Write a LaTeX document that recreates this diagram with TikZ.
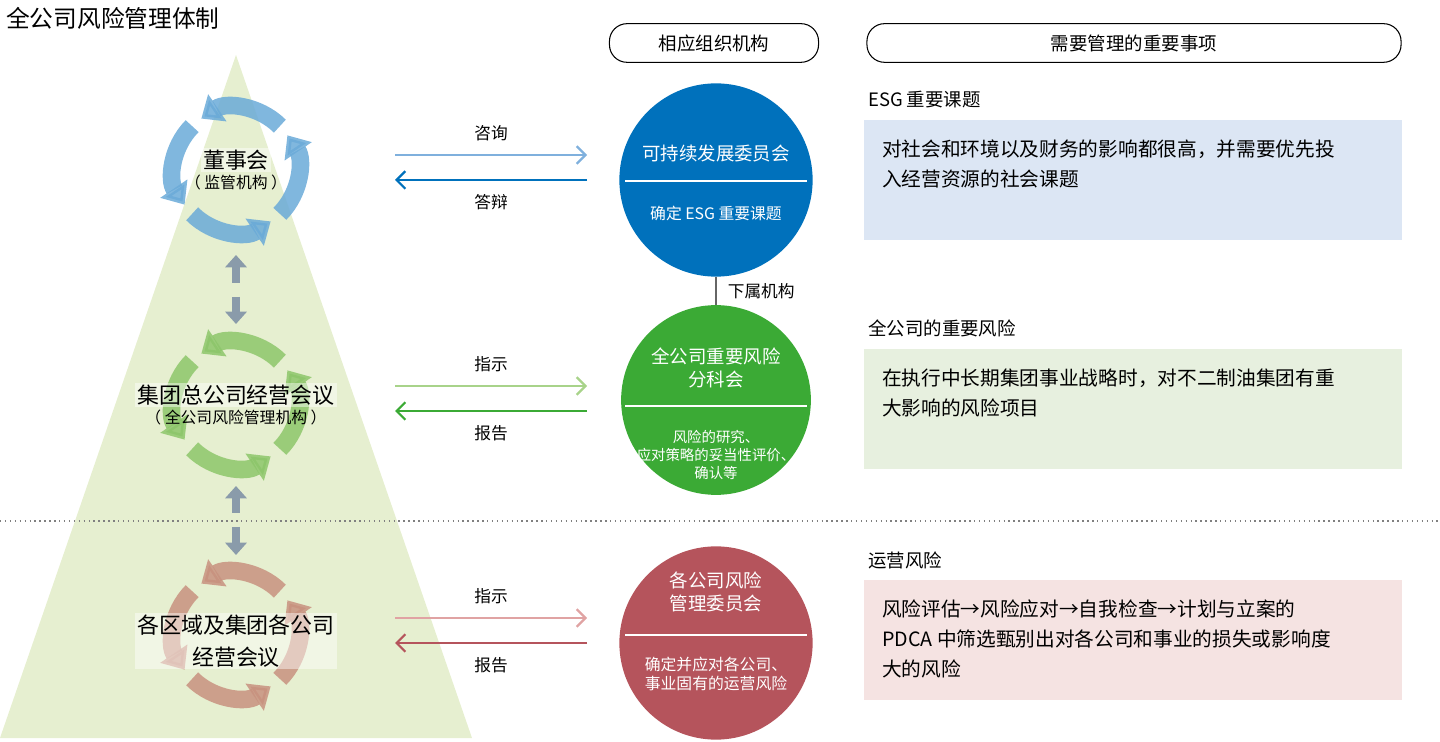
\documentclass[tikz,border=0pt]{standalone}
\usepackage{fontspec}
\setmainfont{Noto Sans CJK SC}
\usetikzlibrary{arrows.meta, positioning, calc}
\definecolor{triGreen}{HTML}{E6EFD0}
\definecolor{esgBlue}{HTML}{0071BC}
\definecolor{riskGreen}{HTML}{3BAA35}
\definecolor{opRed}{HTML}{B5545C}
\definecolor{boxBlue}{HTML}{DCE6F4}
\definecolor{boxGreen}{HTML}{E7F0DF}
\definecolor{boxRed}{HTML}{F5E3E2}
\definecolor{cycBlue}{HTML}{6AAAD8}
\definecolor{cycGreen}{HTML}{8DC66A}
\definecolor{cycRed}{HTML}{C8927F}
\definecolor{blockGray}{HTML}{8A9BAA}
\definecolor{arrLightBlue}{HTML}{7FB0DD}
\definecolor{arrLightGreen}{HTML}{A8D38A}
\definecolor{arrLightRed}{HTML}{E0A3A3}

\begin{document}
\begin{tikzpicture}[x=0.02cm, y=-0.02cm,
    pill/.style={draw, rounded corners=10pt, line width=0.6pt, font=\fontsize{10.5pt}{12pt}\selectfont},
    bigcirc/.style={circle, minimum size=108pt, inner sep=0pt},
    infobox/.style={anchor=north west, minimum width=306pt, minimum height=68pt, inner sep=0pt},
    head/.style={anchor=west, font=\fontsize{10.5pt}{12pt}\selectfont},
    boxtext/.style={anchor=north west, align=left, font=\fontsize{11.2pt}{17pt}\selectfont},
    lvl/.style={font=\fontsize{12.5pt}{18pt}\selectfont, align=center, fill=white, fill opacity=0.45, text opacity=1, inner sep=1pt},
    sub/.style={font=\fontsize{9pt}{11pt}\selectfont},
    lab/.style={font=\fontsize{9.5pt}{11pt}\selectfont},
    cyc/.style={line width=10pt, -{Triangle[width=18pt,length=11pt]}},
    block/.style={blockGray, line width=5pt, -{Triangle[width=12pt,length=7pt]}},
    thinarr/.style={line width=1.3pt, -{Straight Barb[length=5pt,width=10pt]}}
]
\useasboundingbox (0,0) rectangle (1440,742);

% triangle and separator
\fill[triGreen] (236,55) -- (472,738) -- (0,738) -- cycle;
\draw[gray, dotted, line width=0.8pt] (0,521) -- (1440,521);

\node[anchor=west, font=\fontsize{13.5pt}{16pt}\selectfont] (title) at (0,18) {全公司风险管理体制};

% cycles
\foreach \cy/\col in {170/cycBlue, 405/cycGreen, 635/cycRed}{
  \foreach \k in {0,1,2,3}{
    \pgfmathsetmacro{\sa}{-(45+90*\k)}
    \pgfmathsetmacro{\ea}{-(124+90*\k)}
    \draw[cyc, \col, opacity=0.85] ($(236,\cy)+(\sa:62)$) arc[start angle=\sa, end angle=\ea, radius=62];
  }
}

\node[lvl] (board) at (236,160) {董事会};
\node[sub, below=-2pt of board] (boardsub) {（ 监管机构 ）};
\node[lvl] (hq) at (236,395) {集团总公司经营会议};
\node[sub, below=-2pt of hq] (hqsub) {（ 全公司风险管理机构 ）};
\node[lvl] (region) at (236,641) {各区域及集团各公司\\经营会议};

% block arrows
\coordinate (u1a) at (236,283); \coordinate (u1b) at (236,255);
\coordinate (d1a) at (236,297); \coordinate (d1b) at (236,324);
\coordinate (u2a) at (236,513); \coordinate (u2b) at (236,486);
\coordinate (d2a) at (236,527); \coordinate (d2b) at (236,555);
\draw[block] (u1a) -- (u1b);
\draw[block] (d1a) -- (d1b);
\draw[block] (u2a) -- (u2b);
\draw[block] (d2a) -- (d2b);

% headers
\node[pill, minimum width=119pt, minimum height=22pt] (hdrorg) at (714,43) {相应组织机构};
\node[pill, minimum width=304pt, minimum height=22pt] (hdritem) at (1134,43) {需要管理的重要事项};

% circles
\node[bigcirc, fill=esgBlue, minimum size=110pt] (esg) at (716,180) {};
\node[bigcirc, fill=riskGreen] (risk) at (716,400) {};
\node[bigcirc, fill=opRed, minimum size=110pt] (op) at (716,643) {};
\draw[gray!80!black, line width=0.8pt] (esg) -- node[right=3pt, lab, black] {下属机构} (risk);

\node[white, font=\fontsize{10.5pt}{13pt}\selectfont] (esgt) at (716,153) {可持续发展委员会};
\draw[white, line width=0.6pt] (625,181) -- (807,181);
\node[white, sub] (esgs) at (716,213) {确定 ESG 重要课题};

\node[white, align=center, font=\fontsize{10.5pt}{13pt}\selectfont] (riskt) at (716,368) {全公司重要风险\\分科会};
\draw[white, line width=0.6pt] (625,406) -- (807,406);
\node[white, align=center, font=\fontsize{8.2pt}{10.5pt}\selectfont] (risks) at (716,455) {风险的研究、\\应对策略的妥当性评价、\\确认等};

\node[white, align=center, font=\fontsize{10.5pt}{13pt}\selectfont] (opt) at (716,592) {各公司风险\\管理委员会};
\draw[white, line width=0.6pt] (625,635) -- (807,635);
\node[white, sub, align=center] (ops) at (716,674) {确定并应对各公司、\\事业固有的运营风险};

% side arrows
\foreach \n/\y/\lc/\dc/\ta/\tb in {a/155/arrLightBlue/esgBlue/咨询/答辩, b/386/arrLightGreen/riskGreen/指示/报告, c/618/arrLightRed/opRed/指示/报告}{
  \coordinate (l\n1) at (395,\y); \coordinate (r\n1) at (587,\y);
  \coordinate (l\n2) at (395,\y+25); \coordinate (r\n2) at (587,\y+25);
  \draw[thinarr, \lc] (l\n1) -- node[above=4pt, black, lab] {\ta} (r\n1);
  \draw[thinarr, \dc] (r\n2) -- node[below=4pt, black, lab] {\tb} (l\n2);
}

% right boxes
\node[head] (h1) at (862,100) {ESG 重要课题};
\node[infobox, fill=boxBlue] (b1) at (864,120) {};
\node[boxtext] (t1) at (876,134) {对社会和环境以及财务的影响都很高，并需要优先投\\入经营资源的社会课题};
\node[head] (h2) at (862,328) {全公司的重要风险};
\node[infobox, fill=boxGreen] (b2) at (864,349) {};
\node[boxtext] (t2) at (876,363) {在执行中长期集团事业战略时，对不二制油集团有重\\大影响的风险项目};
\node[head] (h3) at (862,560) {运营风险};
\node[infobox, fill=boxRed] (b3) at (864,580) {};
\node[boxtext] (t3) at (876,594) {风险评估→风险应对→自我检查→计划与立案的\\PDCA 中筛选甄别出对各公司和事业的损失或影响度\\大的风险};
\end{tikzpicture}
\end{document}
